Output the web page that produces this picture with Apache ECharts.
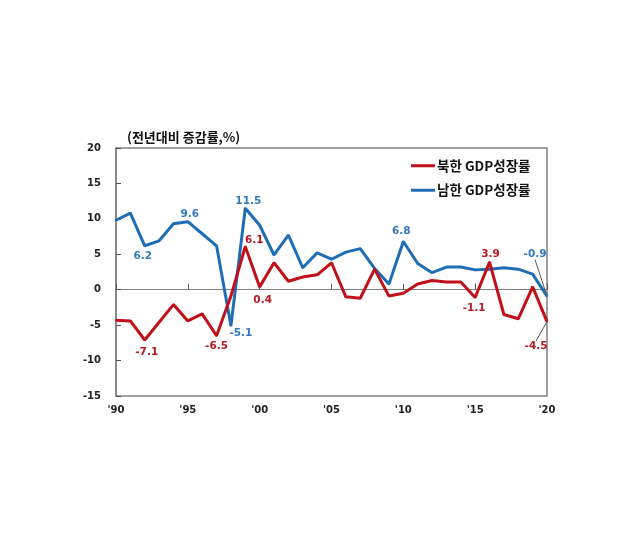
<!DOCTYPE html>
<html><head><meta charset="utf-8">
<script src="https://cdn.jsdelivr.net/npm/echarts@6/dist/echarts.min.js"></script>
<style>html,body{margin:0;padding:0;background:#fff}#c{width:640px;height:547px}</style>
</head><body><div id="c"></div>
<script>
const years = [1990,1991,1992,1993,1994,1995,1996,1997,1998,1999,2000,2001,2002,2003,2004,2005,2006,2007,2008,2009,2010,2011,2012,2013,2014,2015,2016,2017,2018,2019,2020];
const northKorea = [-4.3,-4.4,-7.1,-4.6,-2.1,-4.4,-3.4,-6.5,-0.9,6.1,0.4,3.8,1.2,1.8,2.1,3.8,-1.0,-1.2,2.9,-0.9,-0.5,0.8,1.3,1.1,1.1,-1.1,3.9,-3.5,-4.1,0.4,-4.5];
const southKorea = [9.8,10.8,6.2,6.9,9.3,9.6,7.9,6.2,-5.1,11.5,9.1,4.9,7.7,3.1,5.2,4.3,5.3,5.8,3.0,0.8,6.8,3.7,2.4,3.2,3.2,2.8,2.9,3.1,2.9,2.2,-0.9];
const seriesNames = ['북한 GDP성장률', '남한 GDP성장률'];
const axisTitle = '(전년대비 증감률,%)';
const labeledNorth = [1992, 1997, 1999, 2000, 2015, 2016, 2020];
const labeledSouth = [1992, 1995, 1998, 1999, 2010, 2020];

// label placement styles (shift of label centre from its point, px)
const northOffsets = {1992:[2,12],1997:[0,10],1999:[9,-6],2000:[3,13],2015:[-1,11],2016:[1,-8],2020:[-11,25]};
const southOffsets = {1992:[-2,10],1995:[2,-7],1998:[10,7],1999:[3,-7],2010:[-2,-10],2020:[-12,-42]};
const leaderYears = [2020];

const BLUE = '#1F6EB5', BLUE_T = '#3479BC';
const RED = '#C0111B', RED_T = '#B51A22';
const NUMFONT = 'DejaVu Sans';

function build(vals, labeled, txtColor) {
  return years.map((y, i) => {
    const item = { value: [y, vals[i]] };
    if (labeled.indexOf(y) >= 0) {
      item.label = {
        show: true, position: 'inside',
        formatter: vals[i].toFixed(1),
        color: txtColor, fontWeight: 'bold', fontSize: 10.5, fontFamily: NUMFONT
      };
      if (leaderYears.indexOf(y) >= 0) item.labelLine = { show: true, lineStyle: { color: '#555', width: 1 } };
    }
    return item;
  });
}
function layoutFn(offsets) {
  return p => {
    const o = offsets[years[p.dataIndex]];
    return o ? { dx: o[0], dy: o[1] } : {};
  };
}

const chart = echarts.init(document.getElementById('c'));
chart.setOption({
  animation: false,
  title: {
    text: axisTitle, left: 122, top: 126,
    textStyle: { fontFamily: 'Noto Sans CJK KR', fontWeight: 'bold', fontSize: 13, color: '#111' }
  },
  legend: {
    orient: 'vertical', left: 411, top: 159, itemGap: 11, padding: 0,
    icon: 'rect', itemWidth: 24, itemHeight: 3,
    data: seriesNames,
    textStyle: { fontFamily: 'Noto Sans CJK KR', fontWeight: 'bold', fontSize: 13.5, color: '#111', padding: [0,0,0,-3] }
  },
  grid: { left: 116, right: 93, top: 148, bottom: 151, show: true, borderColor: '#808080', borderWidth: 1.5, containLabel: false },
  xAxis: [
    { type: 'value', min: 1990, max: 2020, interval: 5,
      axisLine: { show: false, onZero: false }, axisTick: { show: false }, splitLine: { show: false },
      axisLabel: { margin: 9, formatter: v => "'" + String(v).slice(2), fontFamily: NUMFONT, fontWeight: 'bold', fontSize: 10, color: '#222' } },
    { type: 'value', min: 1990, max: 2020, interval: 5, position: 'bottom',
      axisLine: { show: true, onZero: true, lineStyle: { color: '#808080', width: 1 } },
      axisTick: { show: true, inside: true, length: 6, lineStyle: { color: '#555', width: 1 } },
      axisLabel: { show: false }, splitLine: { show: false } }
  ],
  yAxis: {
    type: 'value', min: -15, max: 20, interval: 5,
    axisLine: { show: true, lineStyle: { color: '#808080', width: 1.5 } },
    axisTick: { show: true, inside: true, length: 5, lineStyle: { color: '#555' } },
    splitLine: { show: false },
    axisLabel: { margin: 15, fontFamily: NUMFONT, fontWeight: 'bold', fontSize: 10, color: '#222' }
  },
  series: [
    { name: seriesNames[0], type: 'line', xAxisIndex: 0, data: build(northKorea, labeledNorth, RED_T),
      symbol: 'circle', symbolSize: 2, showSymbol: true, itemStyle: { color: RED },
      lineStyle: { color: RED, width: 3 }, z: 3, labelLayout: layoutFn(northOffsets) },
    { name: seriesNames[1], type: 'line', xAxisIndex: 0, data: build(southKorea, labeledSouth, BLUE_T),
      symbol: 'circle', symbolSize: 2, showSymbol: true, itemStyle: { color: BLUE },
      lineStyle: { color: BLUE, width: 3 }, z: 2, labelLayout: layoutFn(southOffsets) }
  ]
});
</script></body></html>
